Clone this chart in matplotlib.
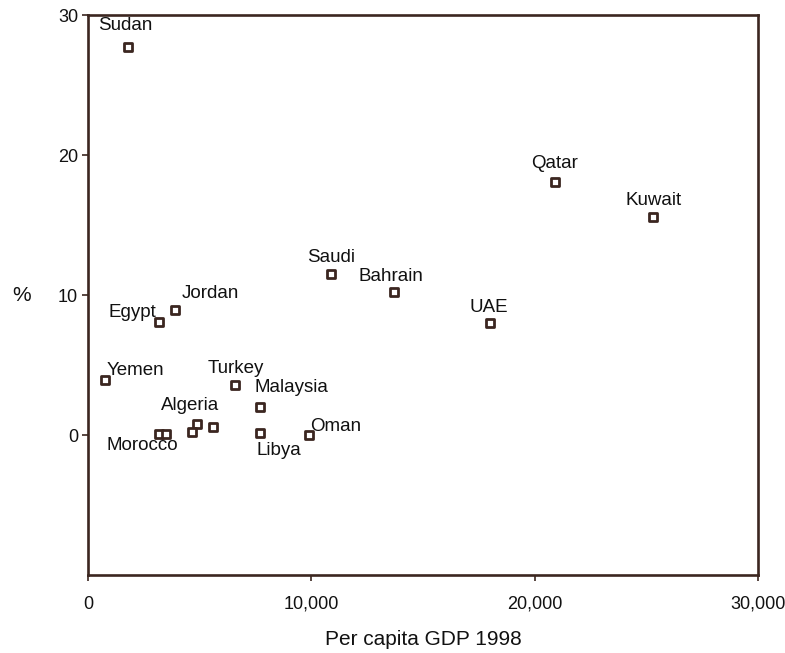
import matplotlib
matplotlib.use("Agg")
import matplotlib.pyplot as plt
from matplotlib.ticker import FuncFormatter

countries = ["Sudan", "Qatar", "Kuwait", "Saudi", "Bahrain", "UAE", "Jordan", "Egypt",
             "Yemen", "Turkey", "Malaysia", "Algeria", "", "", "Morocco", "", "Libya", "Oman"]
gdp = [1800, 20900, 25300, 10900, 13700, 18000, 3900, 3200,
       760, 6600, 7700, 4900, 4660, 5600, 3200, 3500, 7700, 9900]
pct = [27.7, 18.1, 15.6, 11.5, 10.2, 8.0, 8.9, 8.1,
       3.9, 3.6, 2.0, 0.8, 0.2, 0.57, 0.07, 0.07, 0.14, 0.0]

# label offsets in pixels (dx, dy) and horizontal alignment
offsets = {
    "Sudan": (-3, 22, "center"), "Qatar": (0, 18, "center"), "Kuwait": (0, 16, "center"),
    "Saudi": (0, 17, "center"), "Bahrain": (-3, 16, "center"), "UAE": (-1, 16, "center"),
    "Jordan": (7, 17, "left"), "Egypt": (-3, 9, "right"), "Yemen": (2, 10, "left"),
    "Turkey": (0, 16, "center"), "Malaysia": (-5, 20, "left"), "Algeria": (-7, 18, "center"),
    "Morocco": (-17, -11, "center"), "Libya": (-3, -17, "left"), "Oman": (1, 9, "left"),
}

plt.rcParams['font.family'] = ['Liberation Sans', 'DejaVu Sans']
fig = plt.figure(figsize=(7.85, 6.53), dpi=100)
ax = fig.add_axes([0.112, 0.1194, 0.854, 0.8576])
edge = "#3b2620"
ax.scatter(gdp, pct, marker="s", s=28, facecolor="white", edgecolor=edge, linewidths=2.0, zorder=3)
for name, x, y in zip(countries, gdp, pct):
    if not name:
        continue
    dx, dy, ha = offsets[name]
    ax.annotate(name, (x, y), xytext=(dx, dy), textcoords="offset pixels",
                ha=ha, va="center", fontsize=13.5, color="#111111")

ax.set_xlim(0, 30000)
ax.set_ylim(-10, 30)
ax.set_xticks([0, 10000, 20000, 30000])
ax.set_yticks([0, 10, 20, 30])
ax.xaxis.set_major_formatter(FuncFormatter(lambda v, p: f"{int(v):,}"))
ax.tick_params(axis="both", labelsize=13, length=4, width=1.2, color=edge, labelcolor="#111111")
ax.tick_params(axis="x", pad=11)
ax.tick_params(axis="y", pad=3)
for sp in ax.spines.values():
    sp.set_color(edge)
    sp.set_linewidth(1.9)
ax.set_xlabel("Per capita GDP 1998", fontsize=15, labelpad=12, color="#111111")
ax.set_ylabel("%", fontsize=15, rotation=0, va="center", ha="center", color="#111111")
ax.yaxis.set_label_coords(-0.0985, 0.5)
fig.savefig("out.png", dpi=100)
